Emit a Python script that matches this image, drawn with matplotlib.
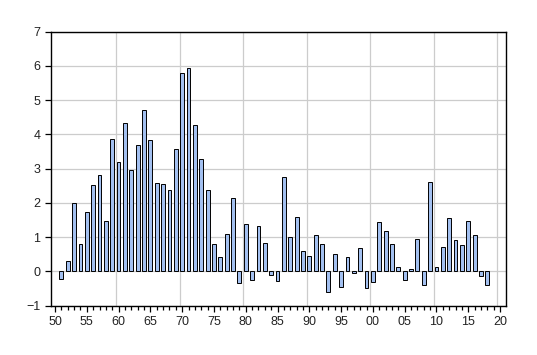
import matplotlib as mpl
mpl.use('Agg')
import matplotlib.pyplot as plt
from matplotlib.ticker import MultipleLocator, FixedLocator
import numpy as np

# annual values, 1951-2018
years = np.arange(1951, 2019)
values = [
    -0.22, 0.29, 1.99, 0.79, 1.72, 2.51, 2.81, 1.46, 3.86, 3.19,
    4.33, 2.95, 3.68, 4.71, 3.83, 2.57, 2.54, 2.37, 3.57, 5.79,
    5.94, 4.27, 3.27, 2.37, 0.81, 0.41, 1.08, 2.15, -0.33, 1.37,
    -0.26, 1.32, 0.82, -0.12, -0.29, 2.75, 0.99, 1.58, 0.58, 0.44,
    1.05, 0.79, -0.61, 0.50, -0.47, 0.41, -0.04, 0.67, -0.50, -0.32,
    1.43, 1.18, 0.79, 0.12, -0.26, 0.06, 0.94, -0.39, 2.60, 0.12,
    0.70, 1.55, 0.91, 0.76, 1.46, 1.05, -0.15, -0.41,
]
major_years = list(range(1950, 2021, 5))
major_labels = ['%02d' % (y % 100) for y in major_years]

plt.rcParams['font.family'] = ['Liberation Sans', 'DejaVu Sans']

fig = plt.figure(figsize=(5.37, 3.55), dpi=100)
ax = fig.add_axes([0.0944, 0.1394, 0.8479, 0.7713])

ax.bar(years, values, width=0.6, color='#a3c0f0', edgecolor='black', linewidth=0.7, zorder=3)

ax.set_xlim(1949.32, 2020.94)
ax.set_ylim(-1, 7)

# grid
for y in range(-1, 8):
    ax.axhline(y, color='#cccccc', linewidth=0.9, zorder=1)
for x in range(1960, 2021, 10):
    ax.axvline(x - 0.4, color='#cccccc', linewidth=0.9, zorder=1)

ax.xaxis.set_major_locator(FixedLocator(major_years))
ax.set_xticklabels(major_labels)
ax.xaxis.set_minor_locator(MultipleLocator(1))
ax.yaxis.set_major_locator(MultipleLocator(1))

ax.tick_params(axis='both', which='major', direction='out', length=4.5, width=0.9,
               labelsize=9, pad=3, labelcolor='#222222')
ax.tick_params(axis='x', which='minor', direction='out', length=3, width=0.9)

for s in ax.spines.values():
    s.set_linewidth(1.0)

fig.savefig('out.png', dpi=100)
